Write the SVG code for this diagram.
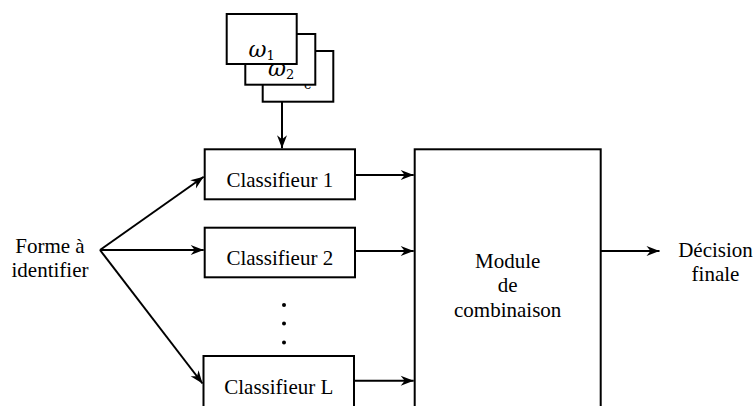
<svg xmlns="http://www.w3.org/2000/svg" width="754" height="406" viewBox="0 0 754 406">
  <style>
    .box { fill: #fff; stroke: #000; stroke-width: 2; }
    .lbl { font-family: "Liberation Serif", "Times New Roman", serif; font-size: 21px; fill: #000; text-anchor: middle; }
    .om { font-family: "DejaVu Serif", "Liberation Serif", serif; font-style: italic; font-size: 22px; fill: #000; }
    .sub { font-size: 13px; font-style: normal; }
    .wire { fill: none; stroke: #000; stroke-width: 2; marker-end: url(#arr); }
  </style>
  <defs>
    <marker id="arr" viewBox="-14 -7 16 14" markerWidth="16" markerHeight="14" refX="0" refY="0" markerUnits="userSpaceOnUse" orient="auto">
      <path d="M0,0 L-13,-5 L-9,0 L-13,5 Z" fill="#000"/>
    </marker>
  </defs>

  <rect width="754" height="406" fill="#fff"/>

  <!-- stacked class models, back to front -->
  <g id="classes">
    <rect class="box" x="262.7" y="51" width="70.6" height="50.7"/>
    <text class="om" x="286" y="85">ω<tspan class="sub" dy="4">c</tspan></text>
    <rect class="box" x="245.3" y="34" width="70" height="50.7"/>
    <text class="om" x="268" y="75.5">ω<tspan class="sub" dy="3">2</tspan></text>
    <rect class="box" x="226.7" y="14" width="70" height="50"/>
    <text class="om" x="248.5" y="57">ω<tspan class="sub" dy="3">1</tspan></text>
  </g>

  <g id="input">
    <text class="lbl" x="50" y="253">Forme à</text>
    <text class="lbl" x="50" y="277">identifier</text>
  </g>

  <g id="clf1">
    <rect class="box" x="204.7" y="149.3" width="150.3" height="50"/>
    <text class="lbl" x="279.8" y="186.5">Classifieur 1</text>
  </g>
  <g id="clf2">
    <rect class="box" x="204.7" y="227.7" width="150.3" height="49.6"/>
    <text class="lbl" x="279.8" y="265">Classifieur 2</text>
  </g>
  <g id="dots">
    <circle cx="284" cy="305" r="2"/>
    <circle cx="284" cy="323.5" r="2"/>
    <circle cx="284" cy="342.5" r="2"/>
  </g>
  <g id="clfL">
    <rect class="box" x="203.5" y="356" width="150.5" height="70"/>
    <text class="lbl" x="278.8" y="393.5">Classifieur L</text>
  </g>

  <g id="combiner">
    <rect class="box" x="414.7" y="149.3" width="186" height="280"/>
    <text class="lbl" x="507.7" y="267.5">Module</text>
    <text class="lbl" x="507.7" y="292">de</text>
    <text class="lbl" x="507.7" y="316.5">combinaison</text>
  </g>

  <g id="output">
    <text class="lbl" x="715.5" y="256.5">Décision</text>
    <text class="lbl" x="715.5" y="280.5">finale</text>
  </g>

  <g id="connectors">
    <line class="wire" x1="282" y1="101.7" x2="282" y2="148.3"/>
    <line class="wire" x1="100" y1="250" x2="203.7" y2="176.8"/>
    <line class="wire" x1="100" y1="250" x2="203.7" y2="250"/>
    <line class="wire" x1="100" y1="250" x2="202.5" y2="383.5"/>
    <line class="wire" x1="355" y1="175" x2="413.7" y2="175"/>
    <line class="wire" x1="355" y1="251" x2="413.7" y2="251"/>
    <line class="wire" x1="354" y1="380.7" x2="413.7" y2="380.7"/>
    <line class="wire" x1="600.7" y1="251" x2="659.5" y2="251"/>
  </g>
</svg>
